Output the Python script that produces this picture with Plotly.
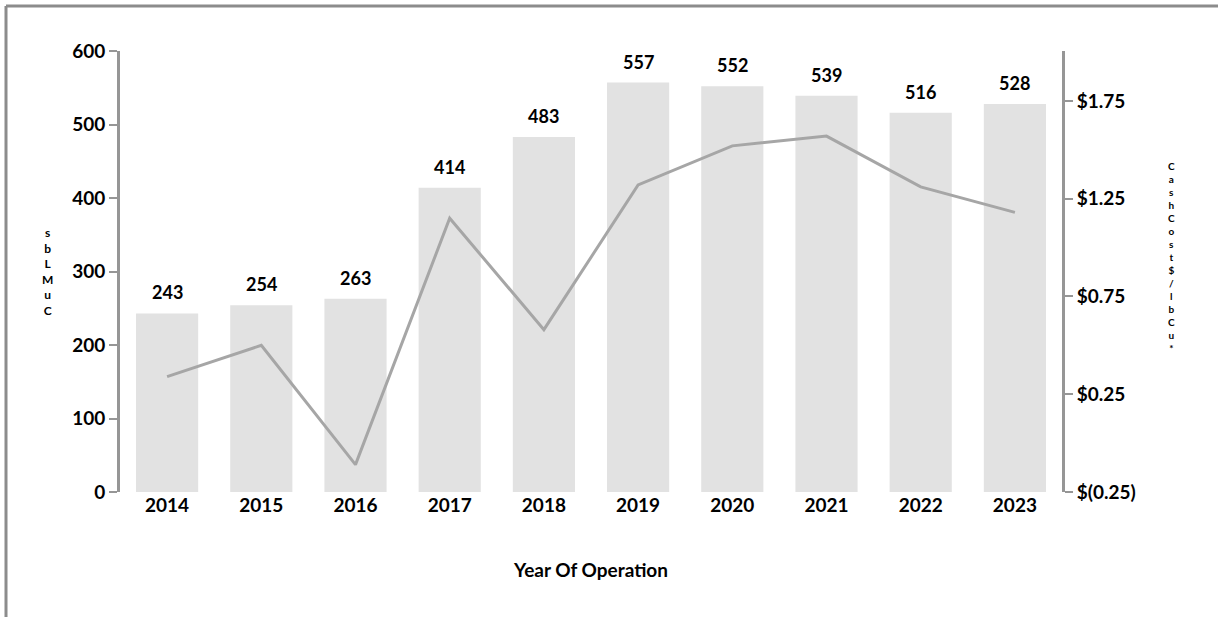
import plotly.graph_objects as go

years = ["2014", "2015", "2016", "2017", "2018", "2019", "2020", "2021", "2022", "2023"]
production_mlbs = [243, 254, 263, 414, 483, 557, 552, 539, 516, 528]
cash_cost = [0.34, 0.50, -0.11, 1.15, 0.58, 1.32, 1.52, 1.57, 1.31, 1.18]

left_ticks = [0, 100, 200, 300, 400, 500, 600]
right_tickvals = [-0.25, 0.25, 0.75, 1.25, 1.75]
right_ticktext = ["$(0.25)", "$0.25", "$0.75", "$1.25", "$1.75"]

left_title = "Cu MLbs"
right_title = "Cash Cost $/lb Cu*"
x_title = "Year Of Operation"

FONT = "Lato"
GREY = "#a6a6a6"
AXIS = "#969696"

fig = go.Figure()
fig.add_trace(go.Bar(
    x=years, y=production_mlbs,
    marker=dict(color="#e2e2e2", line=dict(width=0)),
    width=0.66,
    showlegend=False,
))
fig.add_trace(go.Scatter(
    x=years, y=cash_cost, yaxis="y2", mode="lines",
    line=dict(color=GREY, width=3),
    showlegend=False,
))

W, H = 1218, 617
L, R, T, B = 120, 156, 51, 125
pw, ph = W - L - R, H - T - B

def px_x(p):
    return (p - L) / pw

def px_y(p):
    return (H - B - p) / ph

tickfont = dict(family=FONT, size=19, color="black", weight="bold")

annotations = []
# value labels above the bars (x given as category index)
for i, v in enumerate(production_mlbs):
    annotations.append(dict(
        text=str(v), x=i, y=v, xref="x", yref="y",
        showarrow=False, yanchor="middle", yshift=21,
        font=dict(family=FONT, size=18, color="black", weight="bold")))
# left title: stacked letters, read bottom to top
left_chars = [c for c in left_title if c != " "][::-1]
annotations.append(dict(
    text="<br>".join(left_chars), xref="paper", yref="paper",
    x=px_x(47), y=px_y(271), showarrow=False,
    font=dict(family=FONT, size=12, color="black", weight="bold"),
    xanchor="center", yanchor="middle"))
# right title: stacked letters, read top to bottom
right_chars = [c for c in right_title if c != " "]
annotations.append(dict(
    text="<br>".join(right_chars), xref="paper", yref="paper",
    x=px_x(1171), y=px_y(257), showarrow=False,
    font=dict(family=FONT, size=10, color="black", weight="bold"),
    xanchor="center", yanchor="middle"))

fig.update_layout(
    width=W, height=H,
    margin=dict(l=L, r=R, t=T, b=B),
    plot_bgcolor="white", paper_bgcolor="white",
    font=dict(family=FONT, size=16, color="black", weight="bold"),
    xaxis=dict(
        type="category", range=[-0.5, len(years) - 0.5],
        showline=False, ticks="", showgrid=False,
        tickfont=tickfont,
        title=dict(text=x_title, font=dict(family=FONT, size=19, color="black", weight="bold"), standoff=48),
    ),
    yaxis=dict(
        range=[0, 600], tickvals=left_ticks, showgrid=False, zeroline=False,
        showline=True, linecolor=AXIS, linewidth=3,
        ticks="outside", ticklen=8, tickcolor=AXIS, tickwidth=2,
        tickfont=tickfont,
    ),
    yaxis2=dict(
        overlaying="y", side="right", range=[-0.25, 2.005],
        tickvals=right_tickvals, ticktext=right_ticktext,
        showgrid=False, zeroline=False,
        showline=True, linecolor=AXIS, linewidth=3,
        ticks="outside", ticklen=8, tickcolor=AXIS, tickwidth=2,
        tickfont=tickfont,
    ),
    shapes=[
        dict(type="line", xref="paper", yref="paper",
             x0=px_x(6), x1=px_x(W), y0=px_y(6), y1=px_y(6),
             line=dict(color="#8c8c8c", width=3)),
        dict(type="line", xref="paper", yref="paper",
             x0=px_x(6), x1=px_x(6), y0=px_y(6), y1=px_y(H),
             line=dict(color="#8c8c8c", width=3)),
    ],
    annotations=annotations,
)

fig.write_html("out.html", config={"displayModeBar": False},
               post_script="document.body.style.margin='0';")
